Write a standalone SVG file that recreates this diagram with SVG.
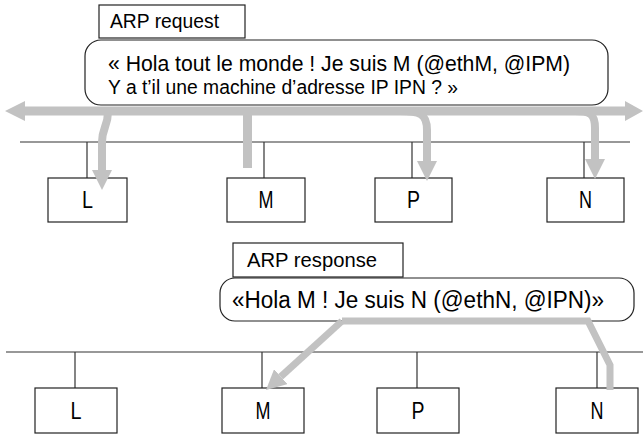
<svg xmlns="http://www.w3.org/2000/svg" width="643" height="434" viewBox="0 0 643 434">
<style>
.box{fill:#fff;stroke:#222;stroke-width:1.2}
.wire{fill:none;stroke:#333;stroke-width:1.2}
.t{font-family:"Liberation Sans",Arial,sans-serif;fill:#000}
.lbl{font-size:20.5px}
.node{font-size:23px;text-anchor:middle}
.flow{fill:none;stroke:#c2c2c2}
</style>
<defs>
<marker id="head" markerUnits="userSpaceOnUse" markerWidth="20" markerHeight="20" viewBox="0 0 20 20" refX="0" refY="10" orient="auto">
<path d="M0,0 L20,10 L0,20 z" fill="#c2c2c2"/>
</marker>
</defs>
<rect width="643" height="434" fill="#fff"/>

<!-- network wires -->
<g id="wires">
<line class="wire" x1="20" y1="142" x2="630" y2="142"/>
<line class="wire" x1="87" y1="142" x2="87" y2="178"/>
<line class="wire" x1="264" y1="142" x2="264" y2="178"/>
<line class="wire" x1="412" y1="142" x2="412" y2="178"/>
<line class="wire" x1="584" y1="142" x2="584" y2="178"/>
<line class="wire" x1="6" y1="352" x2="643" y2="352"/>
<line class="wire" x1="75" y1="352" x2="75" y2="388"/>
<line class="wire" x1="262" y1="352" x2="262" y2="388"/>
<line class="wire" x1="417" y1="352" x2="417" y2="388"/>
<line class="wire" x1="597" y1="352" x2="597" y2="388"/>
</g>

<!-- top hosts -->
<g id="node-L1"><rect class="box" x="48" y="178" width="79" height="44"/><text class="t node" x="87.5" y="208" textLength="11" lengthAdjust="spacingAndGlyphs">L</text></g>
<g id="node-M1"><rect class="box" x="227" y="178" width="78" height="44"/><text class="t node" x="266" y="208" textLength="15" lengthAdjust="spacingAndGlyphs">M</text></g>
<g id="node-P1"><rect class="box" x="375" y="178" width="77" height="44"/><text class="t node" x="413.5" y="208" textLength="13" lengthAdjust="spacingAndGlyphs">P</text></g>
<g id="node-N1"><rect class="box" x="547" y="178" width="77" height="44"/><text class="t node" x="585.5" y="208" textLength="13" lengthAdjust="spacingAndGlyphs">N</text></g>

<!-- bottom hosts -->
<g id="node-L2"><rect class="box" x="35" y="388" width="82" height="45"/><text class="t node" x="76" y="419" textLength="11" lengthAdjust="spacingAndGlyphs">L</text></g>
<g id="node-M2"><rect class="box" x="222" y="388" width="82" height="45"/><text class="t node" x="263" y="419" textLength="15" lengthAdjust="spacingAndGlyphs">M</text></g>
<g id="node-P2"><rect class="box" x="377" y="388" width="82" height="45"/><text class="t node" x="418" y="419" textLength="13" lengthAdjust="spacingAndGlyphs">P</text></g>
<g id="node-N2"><rect class="box" x="556" y="388" width="82" height="45"/><text class="t node" x="597" y="419" textLength="13" lengthAdjust="spacingAndGlyphs">N</text></g>

<!-- labels and messages -->
<g id="label-request"><rect class="box" x="99" y="5" width="146" height="33"/><text class="t lbl" x="110" y="28" textLength="109" lengthAdjust="spacingAndGlyphs">ARP request</text></g>
<g id="msg-request"><rect class="box" x="85" y="40" width="523" height="65" rx="16"/>
<text class="t" x="108" y="71" font-size="22" textLength="462" lengthAdjust="spacingAndGlyphs">« Hola tout le monde ! Je suis M (@ethM, @IPM)</text>
<text class="t" x="108" y="94" font-size="20" textLength="350" lengthAdjust="spacingAndGlyphs">Y a t’il une machine d’adresse IP IPN ? »</text></g>
<g id="label-response"><rect class="box" x="233" y="243" width="170" height="34"/><text class="t lbl" x="247" y="267" textLength="130" lengthAdjust="spacingAndGlyphs">ARP response</text></g>
<g id="msg-response"><rect class="box" x="220" y="278" width="414" height="43" rx="15"/>
<text class="t" x="232" y="308" font-size="23.5" textLength="372" lengthAdjust="spacingAndGlyphs">«Hola M ! Je suis N (@ethN, @IPN)»</text></g>

<!-- flows -->
<g id="connectors">
<polygon points="5,111 25,101 25,106.5 625,106.5 625,101 643,111 625,121 625,115.5 25,115.5 25,121" fill="#c2c2c2"/>
<path class="flow" stroke-width="8" d="M108,112 C108,126 102,128 102,142 L102,170" marker-end="url(#head)"/>
<path class="flow" stroke-width="9" d="M247.5,111 L247.5,168"/>
<path class="flow" stroke-width="8" d="M400,111 C420,111 427,114 427,130 L427,161" marker-end="url(#head)"/>
<path class="flow" stroke-width="8" d="M575,111 C590,111 595,114 595,128 L595,159" marker-end="url(#head)"/>
<path class="flow" stroke-width="7" d="M342,321 L588,321 L610,365 L610,390"/>
<path class="flow" stroke-width="7" d="M342,321 L280.8,376.6" marker-end="url(#head)"/>
</g>
</svg>
